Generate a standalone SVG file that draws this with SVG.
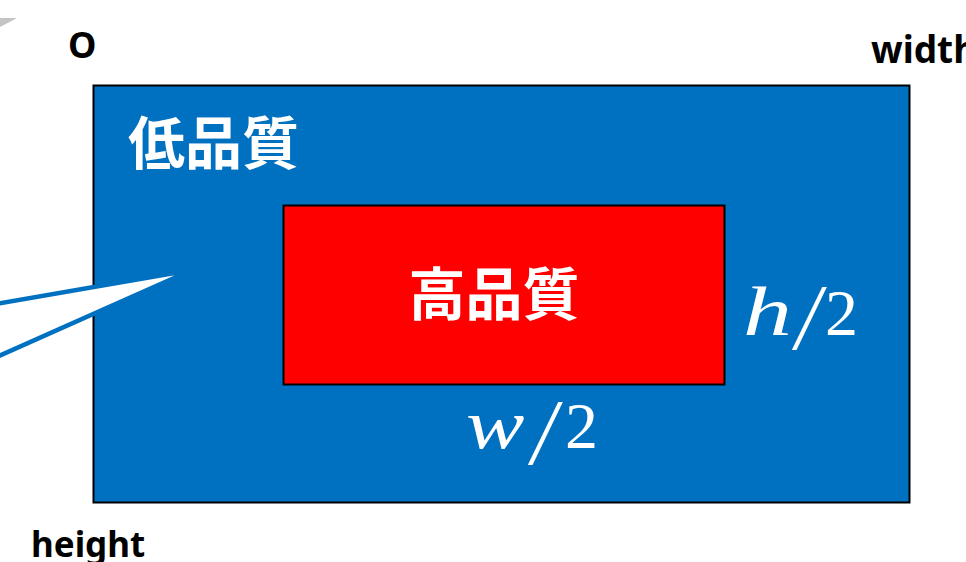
<svg xmlns="http://www.w3.org/2000/svg" width="966" height="562" viewBox="0 0 966 562">
<style>
.lbl{font-family:"Noto Sans","Liberation Sans",sans-serif;font-weight:bold;fill:#000}
.cjk{font-family:"Noto Sans CJK JP","Noto Sans CJK SC",sans-serif;font-weight:bold;fill:#fff;font-size:57px}
.math{font-family:"Liberation Serif","DejaVu Serif",serif;fill:#fff;font-size:66px}
.it{font-style:italic;font-size:70px}
.sl{font-size:94px}
</style>
<rect width="966" height="562" fill="#fff"/>
<polygon points="0,18 17,18 0,27" fill="#c4c4c4"/>
<g id="outer">
<rect x="93.5" y="85.5" width="816" height="417" fill="#0070C0" stroke="#000" stroke-width="2"/>
<text class="cjk" x="128" y="164">低品質</text>
</g>
<g id="inner">
<rect x="283.5" y="205.5" width="441" height="179" fill="#FF0000" stroke="#000" stroke-width="2"/>
<text class="cjk" x="494" y="315" text-anchor="middle">高品質</text>
</g>
<g id="connectors">
<polygon points="-10,305 192,270 -10,360" fill="#fff" stroke="#0070C0" stroke-width="4.5" stroke-linejoin="miter"/>
</g>
<g id="labels">
<text class="lbl" x="68" y="58" font-size="36">O</text>
<text class="lbl" x="871" y="63" font-size="37">width</text>
<text class="lbl" x="31" y="557" font-size="35">height</text>
<text class="math it" transform="translate(743,335) scale(1.4,1)">h</text>
<text class="math sl" transform="translate(792,349) skewX(-8)">/</text>
<text class="math" x="825" y="335">2</text>
<text class="math it" transform="translate(466,448) scale(1.25,1)">w</text>
<text class="math sl" transform="translate(528,464) skewX(-8)">/</text>
<text class="math" x="565" y="448">2</text>
</g>
</svg>
